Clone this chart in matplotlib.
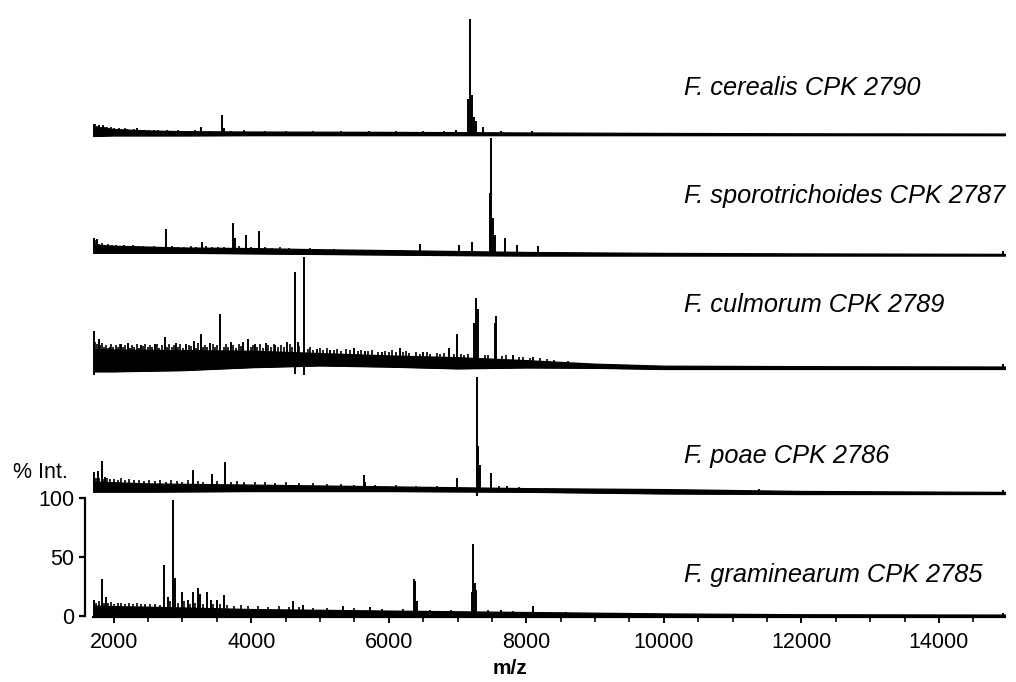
"""
Stacked MALDI-TOF spectra of five Fusarium strains.
"""

import matplotlib

matplotlib.use("Agg")
import matplotlib.pyplot as plt
import numpy as np
from matplotlib.ticker import MultipleLocator

plt.rcParams.update({
    "font.family": ["Liberation Sans", "DejaVu Sans"],
})

# --- Data (m/z, % intensity) ---
LABELS = [
    "F. cerealis CPK 2790",
    "F. sporotrichoides CPK 2787",
    "F. culmorum CPK 2789",
    "F. poae CPK 2786",
    "F. graminearum CPK 2785",
]
OFFSETS = [408, 306, 210, 104, 0]
LABEL_Y = [447, 356, 263, 135, 34]

# noise band (lower / upper edge relative to offset), peaks, small noise spikes
CER_ENV_MZ = [1700, 2000, 2500, 3000, 4000, 6000, 8000, 10000, 12000, 14960]
CER_ENV_LO = [-1.5, -1, -1, -1, -0.8, -0.8, -0.8, -0.8, -0.8, -0.8]
CER_ENV_HI = [6, 4.5, 3.2, 2.6, 2.3, 2, 1.5, 1.1, 0.8, 0.6]
CER_PEAK_MZ = [1720, 1780, 1850, 2340, 3264, 3570, 3600, 5707, 6971, 7150,
               7175, 7200, 7214, 7240, 7262, 7373, 7627, 8089]
CER_PEAK_H = [9, 8, 7, 5, 6, 16, 5, 3, 4, 30, 98, 31, 33, 15, 11, 6, 3, 3]
CER_GRASS_MZ = [1705, 1730, 1755, 1790, 1815, 1840, 1870, 1900, 1935, 1965,
                2000, 2040, 2080, 2120, 2160, 2200, 2250, 2300, 2400, 2460,
                2520, 2580, 2640, 2700, 2780, 2860, 2940, 3020, 3100, 3180,
                3400, 3700, 3900, 4200, 4500, 4900, 5300, 6100, 6500, 6800]
CER_GRASS_H = [9, 8.5, 7, 8, 6.5, 7.5, 6, 6.5, 5, 6, 5.5, 4.5, 5, 4, 5, 4.5,
               4, 4.5, 4, 3.5, 4, 3.5, 4, 3, 3.5, 3, 3.5, 3, 3, 3.5, 3, 3,
               3.5, 3, 2.8, 3, 2.6, 2.8, 2.5, 2.6]

SPO_ENV_MZ = [1700, 2000, 3000, 4000, 5000, 6000, 7000, 8000, 10000, 12000,
              14960]
SPO_ENV_LO = [1.5, 1.5, 1.5, 1, 0.5, 0, -0.5, -0.8, -0.8, -0.8, -0.8]
SPO_ENV_HI = [8.5, 7.5, 6, 5.5, 4.5, 3.8, 3, 2.2, 1.4, 1, 0.6]
SPO_PEAK_MZ = [1720, 1760, 2768, 3278, 3730, 3760, 3924, 4118, 6461, 7019,
               7215, 7470, 7491, 7520, 7550, 7685, 7870, 8171, 14935]
SPO_PEAK_H = [14, 13, 21.5, 11, 27, 14, 16.5, 20, 9, 8, 11, 52, 99, 31, 16.5,
              14, 8, 7, 3]
SPO_GRASS_MZ = [1705, 1735, 1790, 1830, 1870, 1920, 1970, 2030, 2090, 2150,
                2210, 2280, 2350, 2420, 2500, 2580, 2660, 2850, 2940, 3030,
                3120, 3200, 3350, 3430, 3520, 3600, 3820, 4000, 4200, 4300,
                4420, 4550, 4700, 4850, 5000, 5200, 5400, 5600, 5900, 6200,
                6700, 7100]
SPO_GRASS_H = [11, 12, 9, 10, 8.5, 9, 8, 8.5, 7.5, 8, 7, 8, 7, 7.5, 6.5, 7,
               6.5, 7, 6, 6.5, 7, 6, 7.5, 6, 6.5, 6, 7, 6, 6.5, 5.5, 6, 5.5,
               5, 5.5, 4.5, 4.5, 4.2, 4, 3.8, 3.6, 3.4, 3.2]

CUL_ENV_MZ = [1700, 2000, 3000, 4000, 5000, 6000, 7000, 8000, 9000, 10000,
              12000, 14960]
CUL_ENV_LO = [-3, -3, -2, 0.5, 2, 1, -0.5, 0.3, 0, -1, -1, -1]
CUL_ENV_HI = [16, 15.5, 15, 14.5, 12.5, 10.5, 9, 6.5, 3.5, 1.8, 1.4, 1.1]
CUL_PEAK_MZ = [1710, 1780, 1942, 2100, 2208, 2400, 2600, 2743, 2900, 3050,
               3166, 3268, 3400, 3545, 3700, 3885, 3949, 4050, 4211, 4350,
               4517, 4638, 4680, 4770, 4955, 5150, 5489, 5659, 5900, 6159,
               6500, 6873, 6995, 7240, 7262, 7301, 7540, 7564, 7800, 8104,
               14935]
CUL_PEAK_H = [31, 24, 18, 20, 21, 19, 20, 26, 21, 20, 23, 29, 21, 46, 22, 22,
              24, 20, 21, 19, 22, 81, 22, 94, 16, 15, 17, 14, 13, 17, 13, 17,
              28.5, 38, 59, 50, 38, 44, 11, 9.5, 3]
CUL_GRASS_MZ = [1730, 1760, 1800, 1830, 1860, 1890, 1920, 1960, 1990, 2030,
                2060, 2090, 2130, 2160, 2240, 2270, 2300, 2340, 2370, 2430,
                2460, 2500, 2530, 2560, 2630, 2660, 2700, 2780, 2810, 2850,
                2880, 2940, 2970, 3010, 3090, 3120, 3200, 3230, 3300, 3330,
                3360, 3440, 3470, 3500, 3600, 3640, 3670, 3740, 3780, 3820,
                3850, 3990, 4020, 4090, 4130, 4170, 4250, 4290, 4330, 4390,
                4440, 4480, 4560, 4600, 4700, 4820, 4860, 4900, 5000, 5050,
                5100, 5200, 5250, 5300, 5380, 5430, 5550, 5600, 5700, 5750,
                5850, 5950, 6000, 6050, 6100, 6200, 6250, 6300, 6400, 6450,
                6550, 6600, 6700, 6750, 6800, 6950, 7050, 7100, 7150, 7400,
                7450, 7650, 7700, 7900, 7950, 8050, 8200, 8300, 8400, 8600]
CUL_GRASS_H = [22, 20, 19, 21, 18, 19.5, 17, 20, 18, 19, 17.5, 20, 18, 19,
               17, 19.5, 18, 20, 17, 18.5, 20, 17.5, 19, 18, 20, 17, 19, 18,
               20.5, 17.5, 19, 18, 20, 17, 19, 18.5, 17, 21, 18, 19.5, 17.5,
               20, 18, 19, 17.5, 20, 18, 19.5, 17, 20, 18.5, 17.5, 19, 18,
               20, 17, 19, 18, 20.5, 17.5, 19, 18, 20, 17.5, 18.5, 16, 18,
               15.5, 17, 15, 16.5, 15, 16, 14.5, 16, 15, 14.5, 15.5, 14, 15,
               13.5, 14.5, 13, 15, 13.5, 13, 14, 12.5, 13.5, 12, 13, 12, 12.5,
               11.5, 12.5, 11.5, 12, 11, 11.5, 10.5, 11, 10, 10.5, 9.5, 9,
               8.5, 8, 7.5, 7, 6]
CUL_DIP_MZ = [1720, 4640, 4775]
CUL_DIP_H = [-6, -5, -6]

POA_ENV_MZ = [1700, 2000, 2500, 4000, 6000, 8000, 10000, 12000, 14960]
POA_ENV_LO = [1, 1, 1, 1.5, 1.5, 0.9, -0.5, -1, -1]
POA_ENV_HI = [9.5, 9, 8, 7, 5.5, 4, 3.2, 1.6, 0.8]
POA_PEAK_MZ = [1720, 1767, 1825, 1880, 3147, 3429, 3623, 5634, 5660, 6995,
               7287, 7300, 7321, 7481, 7724, 11388, 14935]
POA_PEAK_H = [17.5, 18.5, 27, 13.5, 19, 16, 26, 15, 9, 13, 98, 40, 23.5, 16.5,
              6, 3.5, 2.5]
POA_GRASS_MZ = [1705, 1740, 1790, 1850, 1910, 1950, 2000, 2060, 2110, 2170,
                2230, 2300, 2370, 2440, 2520, 2600, 2680, 2760, 2840, 2920,
                3000, 3080, 3220, 3300, 3500, 3700, 3800, 3900, 4050, 4200,
                4350, 4500, 4700, 4900, 5100, 5300, 5500, 5800, 6100, 6400,
                6700, 7600, 7900, 8300]
POA_GRASS_H = [14, 13, 12.5, 12, 13, 11.5, 12, 11, 12.5, 11, 11.5, 10.5, 11,
               10, 11, 10, 10.5, 9.5, 10.5, 10, 9.5, 10.5, 10, 9.5, 10, 9.5,
               10, 9, 9.5, 9, 8.5, 9, 8, 8.5, 7.5, 7.5, 7, 6.5, 6.5, 6, 5.8,
               5.5, 5, 4.5]
POA_DIP_MZ = [7287]
POA_DIP_H = [-2.5]

GRA_ENV_MZ = [1700, 2000, 2500, 4000, 6000, 8000, 10000, 12000, 14960]
GRA_ENV_LO = [0.6, 0.6, 0.6, 0.6, 0, 0, -1.4, -1.2, -1.2]
GRA_ENV_HI = [8.5, 8, 7.5, 5.5, 4.2, 3, 1.8, 1.1, 0.8]
GRA_PEAK_MZ = [1720, 1835, 1883, 2739, 2788, 2865, 2894, 2987, 3074, 3147,
               3229, 3259, 3351, 3409, 3506, 3599, 4605, 4750, 5333, 5722,
               6373, 6385, 6412, 7210, 7229, 7248, 7268, 7627, 8098, 8574,
               14935]
GRA_PEAK_H = [13, 31, 16, 43, 16, 98, 32, 20, 13, 20, 23, 18, 20, 13, 13, 17,
              12, 9, 8, 7, 31, 29, 12, 20, 61, 28, 22, 5, 8, 3, 2]
GRA_GRASS_MZ = [1705, 1750, 1790, 1860, 1920, 1960, 2010, 2060, 2110, 2160,
                2220, 2280, 2340, 2400, 2460, 2530, 2600, 2670, 2820, 2940,
                3030, 3110, 3190, 3300, 3450, 3550, 3650, 3750, 3850, 3950,
                4100, 4250, 4400, 4550, 4700, 4900, 5100, 5500, 5900, 6200,
                6600, 6900, 7450, 7800]
GRA_GRASS_H = [12, 11, 12.5, 11, 10.5, 11.5, 10, 11, 10.5, 9.5, 10.5, 10, 11,
               9.5, 10, 9.5, 10, 9, 12, 11, 12, 10, 11, 10, 9.5, 10, 9, 8.5,
               9, 8, 8.5, 7.5, 8, 7, 7.5, 6.5, 6.5, 6, 5.5, 5.5, 5, 5, 4.5, 4]

X_MIN, X_MAX = 1700, 14960
Y_MIN, Y_MAX = -1.5, 521.8


def draw_spectrum(ax, offset, env_mz, env_lo, env_hi, peak_mz, peak_h,
                  grass_mz, grass_h, dip_mz=(), dip_h=()):
    env_mz = np.asarray(env_mz, float)
    lo = offset + np.asarray(env_lo, float)
    hi = offset + np.asarray(env_hi, float)
    ax.fill_between(env_mz, lo, hi, color="black", lw=0.9, zorder=2)
    ax.plot(env_mz, lo, color="black", lw=1.2, zorder=2)
    ax.vlines(grass_mz, np.interp(grass_mz, env_mz, lo),
              offset + np.asarray(grass_h, float),
              color="black", lw=1.2, zorder=3)
    ax.vlines(peak_mz, np.interp(peak_mz, env_mz, lo),
              offset + np.asarray(peak_h, float),
              color="black", lw=1.4, zorder=3)
    if len(dip_mz):
        ax.vlines(dip_mz, np.interp(dip_mz, env_mz, lo),
                  offset + np.asarray(dip_h, float),
                  color="black", lw=1.4, zorder=3)


fig = plt.figure(figsize=(10.16, 6.82), dpi=100)
W, H = 1016, 682
ax = fig.add_axes([93 / W, (H - 617.3) / H, (1005 - 93) / W, 617.3 / H])

draw_spectrum(ax, OFFSETS[0], CER_ENV_MZ, CER_ENV_LO, CER_ENV_HI,
              CER_PEAK_MZ, CER_PEAK_H, CER_GRASS_MZ, CER_GRASS_H)
draw_spectrum(ax, OFFSETS[1], SPO_ENV_MZ, SPO_ENV_LO, SPO_ENV_HI,
              SPO_PEAK_MZ, SPO_PEAK_H, SPO_GRASS_MZ, SPO_GRASS_H)
draw_spectrum(ax, OFFSETS[2], CUL_ENV_MZ, CUL_ENV_LO, CUL_ENV_HI,
              CUL_PEAK_MZ, CUL_PEAK_H, CUL_GRASS_MZ, CUL_GRASS_H,
              CUL_DIP_MZ, CUL_DIP_H)
draw_spectrum(ax, OFFSETS[3], POA_ENV_MZ, POA_ENV_LO, POA_ENV_HI,
              POA_PEAK_MZ, POA_PEAK_H, POA_GRASS_MZ, POA_GRASS_H,
              POA_DIP_MZ, POA_DIP_H)
draw_spectrum(ax, OFFSETS[4], GRA_ENV_MZ, GRA_ENV_LO, GRA_ENV_HI,
              GRA_PEAK_MZ, GRA_PEAK_H, GRA_GRASS_MZ, GRA_GRASS_H)

for label, ly in zip(LABELS, LABEL_Y):
    ax.text(10300, ly, label, fontsize=18.3, style="italic", va="center",
            ha="left")

ax.set_xlim(X_MIN, X_MAX)
ax.set_ylim(Y_MIN, Y_MAX)

for side in ("top", "right"):
    ax.spines[side].set_visible(False)
ax.spines["left"].set_position(("outward", 5.8))
ax.spines["left"].set_bounds(0, 100)
ax.spines["left"].set_linewidth(1.6)
ax.spines["bottom"].set_linewidth(1.6)

ax.set_yticks([0, 50, 100])
ax.xaxis.set_major_locator(MultipleLocator(2000))
ax.xaxis.set_minor_locator(MultipleLocator(500))
ax.tick_params(axis="y", length=4.5, width=1.6, labelsize=15.5, pad=3)
ax.tick_params(axis="x", which="major", length=4.5, width=1.4, labelsize=15.5,
               pad=6)
ax.tick_params(axis="x", which="minor", length=3.5, width=1.2)

fig.text(510 / W, 1 - 668 / H, "m/z", fontsize=15, fontweight="bold",
         ha="center", va="center")
fig.text(13 / W, 1 - 472 / H, "% Int.", fontsize=15.5, va="center", ha="left")

fig.savefig("out.png", dpi=100)
